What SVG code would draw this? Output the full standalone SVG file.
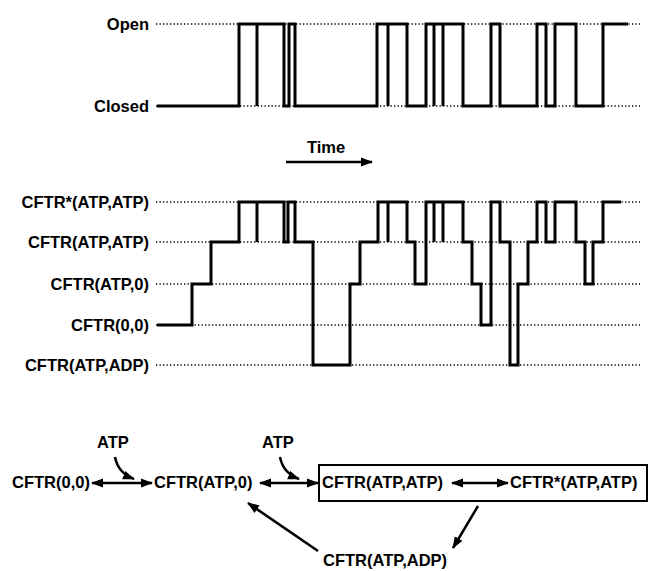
<svg xmlns="http://www.w3.org/2000/svg" width="654" height="571" viewBox="0 0 654 571">
<style>
text{font-family:"Liberation Sans",Arial,sans-serif;font-weight:bold;font-size:16.5px;fill:#000}
.lab{text-anchor:end}
.dot{stroke:#000;stroke-width:1.3;stroke-dasharray:1.3 2.2;fill:none}
.trace{stroke:#000;stroke-width:3;fill:none;stroke-linejoin:miter}
.arr{stroke:#000;stroke-width:2.5;fill:none}
</style>
<defs>
<marker id="ah" markerUnits="userSpaceOnUse" markerWidth="12" markerHeight="10" refX="11" refY="5" orient="auto-start-reverse" viewBox="0 0 12 10">
<path d="M0,0.5 L12,5 L0,9.5 z" fill="#000"/>
</marker>
</defs>
<rect width="654" height="571" fill="#fff"/>

<g id="channel-trace">
<text class="lab" x="149" y="30">Open</text>
<text class="lab" x="149" y="112">Closed</text>
<line class="dot" x1="156" y1="24" x2="640" y2="24"/>
<line class="dot" x1="156" y1="106" x2="640" y2="106"/>
<path class="trace" d="M157,106 H239 V24 H257 V106 V24 H284 V106 H289 V24 H295 V106 H377 V24 H388 V106 V24 H407 V106 H426 V24 H434 V106 V24 H443 V106 V24 H463 V106 H491 V24 H500 V106 H537 V24 H546 V106 H555 V24 H576 V106 H603 V24 H628"/>
</g>

<g id="time-arrow">
<text x="307" y="153">Time</text>
<line class="arr" x1="286" y1="162" x2="372" y2="162" marker-end="url(#ah)"/>
</g>

<g id="state-trace">
<text class="lab" x="149" y="208">CFTR*(ATP,ATP)</text>
<text class="lab" x="149" y="248">CFTR(ATP,ATP)</text>
<text class="lab" x="149" y="290">CFTR(ATP,0)</text>
<text class="lab" x="149" y="331">CFTR(0,0)</text>
<text class="lab" x="149" y="371">CFTR(ATP,ADP)</text>
<line class="dot" x1="156" y1="202" x2="640" y2="202"/>
<line class="dot" x1="156" y1="242" x2="640" y2="242"/>
<line class="dot" x1="156" y1="284" x2="640" y2="284"/>
<line class="dot" x1="156" y1="325" x2="640" y2="325"/>
<line class="dot" x1="156" y1="365" x2="640" y2="365"/>
<path class="trace" d="M157,325 H192 V284 H211 V242 H239 V202 H257 V242 V202 H284 V242 H288 V202 H295 V242 H313 V365 H350 V284 H360 V242 H378 V202 H388 V242 V202 H407 V242 H415 V284 H426 V202 H434 V242 V202 H443 V242 V202 H463 V242 H472 V284 H481 V325 H491 V202 H500 V242 H510 V365 H518 V284 H528 V242 H537 V202 H546 V242 H555 V202 H576 V242 H585 V284 H593 V242 H603 V202 H621"/>
</g>

<g id="node-cftr00"><text x="12" y="488">CFTR(0,0)</text></g>
<g id="node-atp1"><text x="97" y="448">ATP</text></g>
<g id="node-cftratp0"><text x="154" y="488">CFTR(ATP,0)</text></g>
<g id="node-atp2"><text x="262" y="448">ATP</text></g>
<g id="node-box">
<rect x="319" y="465" width="328" height="36" fill="none" stroke="#000" stroke-width="2"/>
<text x="322" y="488">CFTR(ATP,ATP)</text>
<text x="510" y="488">CFTR*(ATP,ATP)</text>
</g>
<g id="node-cftratpadp"><text x="323" y="566">CFTR(ATP,ADP)</text></g>

<g id="connectors">
<line class="arr" x1="92" y1="483" x2="152" y2="483" marker-start="url(#ah)" marker-end="url(#ah)"/>
<path class="arr" d="M115,457 Q118,473 134,479" marker-end="url(#ah)"/>
<line class="arr" x1="260" y1="483" x2="318" y2="483" marker-start="url(#ah)" marker-end="url(#ah)"/>
<path class="arr" d="M280,457 Q283,473 299,479" marker-end="url(#ah)"/>
<line class="arr" x1="452" y1="483" x2="508" y2="483" marker-start="url(#ah)" marker-end="url(#ah)"/>
<line class="arr" x1="478" y1="506" x2="453" y2="548" marker-end="url(#ah)"/>
<line class="arr" x1="318" y1="551" x2="248" y2="503" marker-end="url(#ah)"/>
</g>
</svg>
